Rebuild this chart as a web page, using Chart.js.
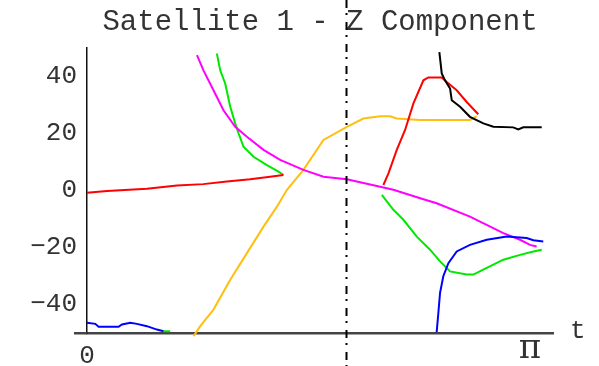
<!DOCTYPE html>
<html>
<head>
<meta charset="utf-8">
<script src="https://cdn.jsdelivr.net/npm/chart.js@4"></script>
<style>
  html, body { margin: 0; padding: 0; background: #fff; }
  canvas { display: block; }
</style>
</head>
<body>
<canvas id="zChart" width="599" height="366"></canvas>
<script>
// Z component of satellite 1, each curve as [t, z] samples
const redEarly = [[0, -0.8], [0.142, -0.2], [0.425, 0.6], [0.638, 1.7], [0.824, 2.2], [0.992, 3.1], [1.157, 3.9], [1.299, 4.8], [1.393, 5.4]];
const redLate = [[2.102, 1.9], [2.138, 6.0], [2.197, 14.2], [2.256, 21.2], [2.315, 30.5], [2.386, 38.6], [2.421, 39.6], [2.516, 39.6], [2.551, 38.0], [2.622, 35.1], [2.693, 31.0], [2.775, 26.7]];
const greenBottom = [[0.543, -49.4], [0.59, -49.4]];
const greenEarly = [[0.921, 48.0], [0.945, 42.1], [0.980, 37.5], [1.016, 29.3], [1.051, 23.5], [1.075, 20.0], [1.110, 15.3], [1.181, 11.8], [1.276, 8.9], [1.358, 6.6], [1.393, 5.4]];
const greenLate = [[2.091, -1.6], [2.173, -6.8], [2.244, -10.3], [2.339, -16.2], [2.433, -20.8], [2.504, -24.9], [2.575, -28.4], [2.693, -29.5], [2.740, -29.5], [2.835, -27.2], [2.953, -24.3], [3.071, -22.6], [3.166, -21.4], [3.225, -20.8]];
const magenta = [[0.780, 47.4], [0.826, 42.1], [0.897, 35.1], [0.968, 28.1], [1.051, 22.3], [1.134, 18.8], [1.252, 14.2], [1.370, 10.7], [1.535, 7.2], [1.677, 4.8], [1.843, 3.9], [2.079, 1.3], [2.173, 0.2], [2.386, -3.1], [2.480, -4.5], [2.716, -9.2], [2.953, -15.0], [3.071, -17.3], [3.142, -19.1], [3.189, -19.7]];
const orange = [[0.756, -51.1], [0.803, -47.6], [0.897, -41.8], [1.016, -31.3], [1.134, -22.0], [1.252, -12.7], [1.347, -5.7], [1.418, 0.2], [1.535, 7.2], [1.677, 17.7], [1.843, 22.3], [1.960, 25.2], [2.079, 26.0], [2.150, 26.0], [2.197, 25.2], [2.362, 24.7], [2.716, 24.7], [2.764, 26.0]];
const black = [[2.499, 48.5], [2.516, 41.0], [2.539, 38.6], [2.575, 35.7], [2.587, 31.6], [2.646, 29.3], [2.716, 25.8], [2.811, 23.5], [2.882, 22.3], [3.023, 22.1], [3.059, 21.4], [3.094, 22.1], [3.225, 22.1]];
const blueEarly = [[0, -46.4], [0.059, -46.8], [0.082, -47.8], [0.224, -47.8], [0.248, -47.0], [0.307, -46.4], [0.354, -46.8], [0.425, -47.6], [0.496, -48.8], [0.543, -49.4]];
const blueLate = [[2.480, -49.7], [2.492, -42.9], [2.504, -35.9], [2.527, -30.1], [2.563, -25.5], [2.622, -21.4], [2.716, -19.1], [2.835, -17.3], [2.977, -16.2], [3.118, -16.7], [3.166, -17.5], [3.236, -17.9]];

// event time marked by the dash-dot line
const markerT = 1.836;

const xTickValues = [0, Math.PI];
const xTickLabels = ["0", "π"];
const yTickValues = [-40, -20, 0, 20, 40];

const MONO = "'Liberation Mono', 'Courier New', monospace";
const SERIF = "'DejaVu Serif', 'Liberation Serif', serif";

// join separate pieces of one curve, with a gap between them
function toPoints(...segments) {
    const pts = [];
    segments.forEach((seg, i) => {
        if (i > 0) pts.push({ x: seg[0][0], y: null });
        seg.forEach(([x, y]) => pts.push({ x, y }));
    });
    return pts;
}

function line(data, color) {
    return {
        data,
        borderColor: color,
        borderWidth: 2,
        pointRadius: 0,
        tension: 0,
        fill: false,
        spanGaps: false,
        clip: false,
    };
}

// dash-dot vertical marker, the x axis stub left of the origin, and the "t" axis name
const extras = {
    id: "extras",
    afterDatasetsDraw(chart) {
        const { ctx, scales: { x } } = chart;
        const px = Math.round(x.getPixelForValue(markerT)) + 0.5;
        ctx.save();
        ctx.strokeStyle = "#000";
        ctx.lineWidth = 2;
        ctx.setLineDash([8, 5, 2, 7]);
        ctx.beginPath();
        ctx.moveTo(px, 0);
        ctx.lineTo(px, chart.height);
        ctx.stroke();
        ctx.restore();
    },
    afterDraw(chart) {
        const { ctx, chartArea } = chart;
        ctx.save();
        ctx.strokeStyle = "#444";
        ctx.lineWidth = 2.5;
        ctx.beginPath();
        ctx.moveTo(chartArea.left - 13, chartArea.bottom + 0.25);
        ctx.lineTo(chartArea.left, chartArea.bottom + 0.25);
        ctx.stroke();
        ctx.font = "26px " + MONO;
        ctx.fillStyle = "#333";
        ctx.textAlign = "left";
        ctx.textBaseline = "middle";
        ctx.fillText("t", chartArea.right + 17, chartArea.bottom - 2);
        ctx.restore();
    },
};

const ctx = document.getElementById("zChart").getContext("2d");
const zChart = new Chart(ctx, {
    type: "line",
    data: {
        datasets: [
            line(toPoints(black), "#000000"),
            line(toPoints(blueEarly, blueLate), "#0000ff"),
            line(toPoints(redEarly, redLate), "#ff0000"),
            line(toPoints(magenta), "#ff00ff"),
            line(toPoints(greenBottom, greenEarly, greenLate), "#00e800"),
            line(toPoints(orange), "#ffbf10"),
        ],
    },
    options: {
        responsive: false,
        animation: false,
        layout: { padding: { left: 0, right: 46, top: 0, bottom: 0 } },
        scales: {
            x: {
                type: "linear",
                min: 0,
                max: 3.305,
                grid: { display: false, drawTicks: false },
                border: { display: true, color: "#444", width: 2.5 },
                afterBuildTicks: (scale) => {
                    scale.ticks = xTickValues.map((value) => ({ value }));
                },
                afterFit: (scale) => {
                    scale.height = 33;
                },
                ticks: {
                    padding: 8,
                    color: "#333",
                    font: (c) => (c.tick && c.tick.value !== 0)
                        ? { family: SERIF, size: 34, lineHeight: 0.5 }
                        : { family: MONO, size: 26 },
                    autoSkip: false,
                    maxRotation: 0,
                    callback: (value) => xTickLabels[xTickValues.indexOf(value)],
                },
            },
            y: {
                type: "linear",
                position: "left",
                min: -50,
                max: 50,
                grid: { display: false, drawTicks: false },
                border: { display: true, color: "#111", width: 1.5 },
                afterBuildTicks: (scale) => {
                    scale.ticks = yTickValues.map((value) => ({ value }));
                },
                afterFit: (scale) => {
                    scale.width = 87;
                },
                ticks: {
                    padding: 10,
                    color: "#333",
                    font: { family: MONO, size: 26 },
                    callback: (value) => (value < 0 ? "\u2212" + Math.abs(value) : String(value)),
                },
            },
        },
        plugins: {
            legend: { display: false },
            tooltip: { enabled: false },
            title: {
                display: true,
                text: "Satellite 1 - Z Component",
                fullSize: false,
                color: "#333",
                font: { family: MONO, size: 29, weight: "normal" },
                padding: { top: 5, bottom: 8 },
            },
        },
    },
    plugins: [extras],
});
</script>
</body>
</html>
